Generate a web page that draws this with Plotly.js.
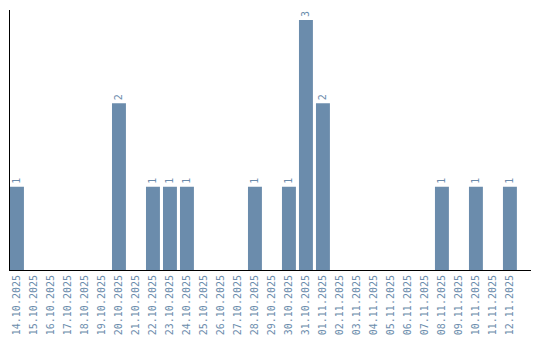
<!DOCTYPE html>
<html><head><meta charset="utf-8">
<script src="https://cdn.plot.ly/plotly-3.0.1.min.js"></script>
<style>html,body{margin:0;padding:0;background:#fff}#chart{width:540px;height:340px}</style>
</head><body><div id="chart"></div>
<script>
const dates = ["14.10.2025","15.10.2025","16.10.2025","17.10.2025","18.10.2025","19.10.2025","20.10.2025","21.10.2025","22.10.2025","23.10.2025","24.10.2025","25.10.2025","26.10.2025","27.10.2025","28.10.2025","29.10.2025","30.10.2025","31.10.2025","01.11.2025","02.11.2025","03.11.2025","04.11.2025","05.11.2025","06.11.2025","07.11.2025","08.11.2025","09.11.2025","10.11.2025","11.11.2025","12.11.2025"];
const counts = [1,0,0,0,0,0,2,0,1,1,1,0,0,0,1,0,1,3,2,0,0,0,0,0,0,1,0,1,0,1];
const labels = counts.map(v => v > 0 ? String(v) : "");
const col = "#6b8cac";
Plotly.newPlot("chart", [{
  type: "bar", x: dates, y: counts, text: labels,
  textposition: "outside", textangle: -90, cliponaxis: false,
  textfont: {family: "DejaVu Sans Mono", size: 10, color: col},
  marker: {color: col}, hoverinfo: "none"
}], {
  width: 540, height: 340,
  margin: {l: 10, r: 9, t: 10, b: 70},
  paper_bgcolor: "#fff", plot_bgcolor: "#fff",
  bargap: 0.18, showlegend: false,
  xaxis: {type: "category", range: [-0.41, 30.24], tickangle: -90,
    tickfont: {family: "DejaVu Sans Mono", size: 10, color: col},
    showline: true, linecolor: "#000", linewidth: 1, ticks: "", showgrid: false, zeroline: false, automargin: false},
  yaxis: {range: [0, 3.12], showline: true, linecolor: "#000", linewidth: 1, showticklabels: false,
    ticks: "", showgrid: false, zeroline: false}
}, {staticPlot: true});
</script></body></html>
